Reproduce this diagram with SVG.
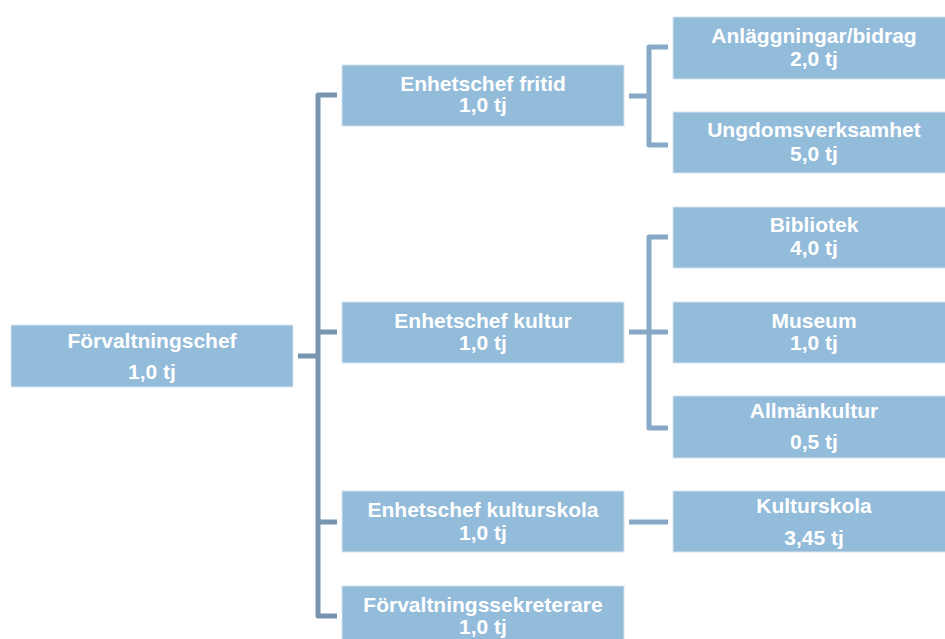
<svg xmlns="http://www.w3.org/2000/svg" width="945" height="639" viewBox="0 0 945 639">
<style>
.box{fill:#93BBDA;stroke:#D6E5F1;stroke-width:1}
.t{font-family:"Liberation Sans",Arial,sans-serif;font-weight:bold;font-size:21px;fill:#FFFFFF;text-anchor:middle}
.c1{fill:none;stroke:#7795AF;stroke-width:5;stroke-linejoin:round}
.c2{fill:none;stroke:#87A9C7;stroke-width:5;stroke-linejoin:round}
</style>
<rect width="945" height="639" fill="#FFFFFF"/>
<g id="connectors">
<path class="c1" d="M298,356 H318"/>
<path class="c1" d="M337,95 H318 V616 H337"/>
<path class="c1" d="M318,332 H337"/>
<path class="c1" d="M318,522 H337"/>
<path class="c2" d="M629,96 H649"/>
<path class="c2" d="M668,47 H649 V145 H668"/>
<path class="c2" d="M629,332 H668"/>
<path class="c2" d="M668,237 H649 V428 H668"/>
<path class="c2" d="M629,522 H668"/>
</g>
<g id="forvaltningschef">
<rect class="box" x="11" y="325" width="282" height="62"/>
<text class="t" x="152" y="348">Förvaltningschef</text>
<text class="t" x="152" y="379">1,0 tj</text>
</g>
<g id="enhetschef-fritid">
<rect class="box" x="342" y="65" width="282" height="61"/>
<text class="t" x="483" y="91">Enhetschef fritid</text>
<text class="t" x="483" y="112">1,0 tj</text>
</g>
<g id="enhetschef-kultur">
<rect class="box" x="342" y="302" width="282" height="61"/>
<text class="t" x="483" y="328">Enhetschef kultur</text>
<text class="t" x="483" y="350">1,0 tj</text>
</g>
<g id="enhetschef-kulturskola">
<rect class="box" x="342" y="491" width="282" height="61"/>
<text class="t" x="483" y="517">Enhetschef kulturskola</text>
<text class="t" x="483" y="540">1,0 tj</text>
</g>
<g id="forvaltningssekreterare">
<rect class="box" x="342" y="586" width="282" height="62"/>
<text class="t" x="483" y="612">Förvaltningssekreterare</text>
<text class="t" x="483" y="634">1,0 tj</text>
</g>
<g id="anlaggningar">
<rect class="box" x="673" y="17" width="282" height="62"/>
<text class="t" x="814" y="43">Anläggningar/bidrag</text>
<text class="t" x="814" y="66">2,0 tj</text>
</g>
<g id="ungdomsverksamhet">
<rect class="box" x="673" y="112" width="282" height="61"/>
<text class="t" x="814" y="137">Ungdomsverksamhet</text>
<text class="t" x="814" y="161">5,0 tj</text>
</g>
<g id="bibliotek">
<rect class="box" x="673" y="207" width="282" height="61"/>
<text class="t" x="814" y="232">Bibliotek</text>
<text class="t" x="814" y="255">4,0 tj</text>
</g>
<g id="museum">
<rect class="box" x="673" y="302" width="282" height="61"/>
<text class="t" x="814" y="328">Museum</text>
<text class="t" x="814" y="350">1,0 tj</text>
</g>
<g id="allmankultur">
<rect class="box" x="673" y="396" width="282" height="62"/>
<text class="t" x="814" y="418">Allmänkultur</text>
<text class="t" x="814" y="449">0,5 tj</text>
</g>
<g id="kulturskola">
<rect class="box" x="673" y="491" width="282" height="61"/>
<text class="t" x="814" y="513">Kulturskola</text>
<text class="t" x="814" y="545">3,45 tj</text>
</g>
</svg>
